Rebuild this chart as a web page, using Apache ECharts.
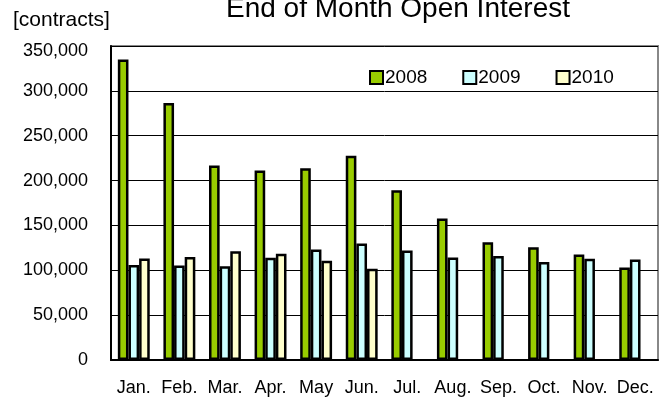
<!DOCTYPE html>
<html>
<head>
<meta charset="utf-8">
<script src="https://cdn.jsdelivr.net/npm/echarts@6/dist/echarts.min.js"></script>
<style>
  html, body { margin: 0; padding: 0; background: #fff; }
  #main { width: 670px; height: 405px; }
</style>
</head>
<body>
<div id="main"></div>
<script>
var chartDom = document.getElementById('main');
var myChart = echarts.init(chartDom);
var option;

// ---------- data ----------
var months = ['Jan.', 'Feb.', 'Mar.', 'Apr.', 'May', 'Jun.', 'Jul.', 'Aug.', 'Sep.', 'Oct.', 'Nov.', 'Dec.'];
var oi2008 = [335000, 286500, 216800, 211200, 213700, 227800, 189200, 157700, 131300, 125800, 117600, 103200];
var oi2009 = [105800, 105400, 104600, 113900, 123200, 129900, 122100, 114300, 115800, 109100, 112800, 112100];
var oi2010 = [113200, 114700, 121300, 118300, 110500, 101600, null, null, null, null, null, null];
var seriesNames = ['2008', '2009', '2010'];
var seriesColors = ['#99CC00', '#CCFFFF', '#FFFFCC'];

var font = 'Liberation Sans, Arial, sans-serif';

function makeBar(idx, data) {
    return {
        name: seriesNames[idx],
        type: 'bar',
        data: data,
        barGap: 0,
        barCategoryGap: '30%',
        itemStyle: {
            color: seriesColors[idx],
            borderColor: '#000',
            borderWidth: 2.5
        },
        emphasis: { disabled: true }
    };
}

option = {
    animation: false,
    title: [{
        text: 'End of Month Open Interest',
        left: 393,
        textAlign: 'center',
        top: -10,
        textStyle: { fontFamily: font, fontSize: 28, fontWeight: 'normal', color: '#000' }
    }, {
        text: '[contracts]',
        left: 8,
        top: 5,
        textStyle: { fontFamily: font, fontSize: 21, fontWeight: 'normal', color: '#000' }
    }],
    legend: {
        left: 364,
        top: 63,
        itemWidth: 13,
        itemHeight: 13,
        itemGap: 35,
        icon: 'rect',
        itemStyle: { borderColor: '#000', borderWidth: 2 },
        textStyle: { fontFamily: font, fontSize: 19, color: '#000', padding: [0, 0, 0, -3] },
        data: seriesNames
    },
    grid: {
        left: 111,
        right: 12,
        top: 46,
        bottom: 45,
        show: true,
        borderColor: '#888',
        borderWidth: 2,
        containLabel: false
    },
    xAxis: {
        type: 'category',
        data: months,
        axisLine: { lineStyle: { color: '#000', width: 2 } },
        axisTick: { inside: true, length: 5, lineStyle: { color: '#000' } },
        axisLabel: { interval: 0, fontFamily: font, fontSize: 18, color: '#000', margin: 19 },
        splitLine: { show: false }
    },
    yAxis: {
        type: 'value',
        min: 0,
        max: 350000,
        interval: 50000,
        axisLine: { show: true, lineStyle: { color: '#000', width: 2 } },
        axisTick: { show: true, inside: true, length: 5, lineStyle: { color: '#000' } },
        axisLabel: {
            fontFamily: font,
            fontSize: 18,
            color: '#000',
            margin: 23,
            formatter: function (v) {
                var s = v.toLocaleString('en-US');
                if (v === 350000) {
                    return '{top|' + s + '}';
                }
                return s;
            },
            rich: {
                top: { fontFamily: font, fontSize: 18, color: '#000', padding: [10, 0, 0, 0] }
            }
        },
        splitLine: { show: true, lineStyle: { color: '#000', width: 1 } }
    },
    series: [makeBar(0, oi2008), makeBar(1, oi2009), makeBar(2, oi2010)]
};

option && myChart.setOption(option);
</script>
</body>
</html>
